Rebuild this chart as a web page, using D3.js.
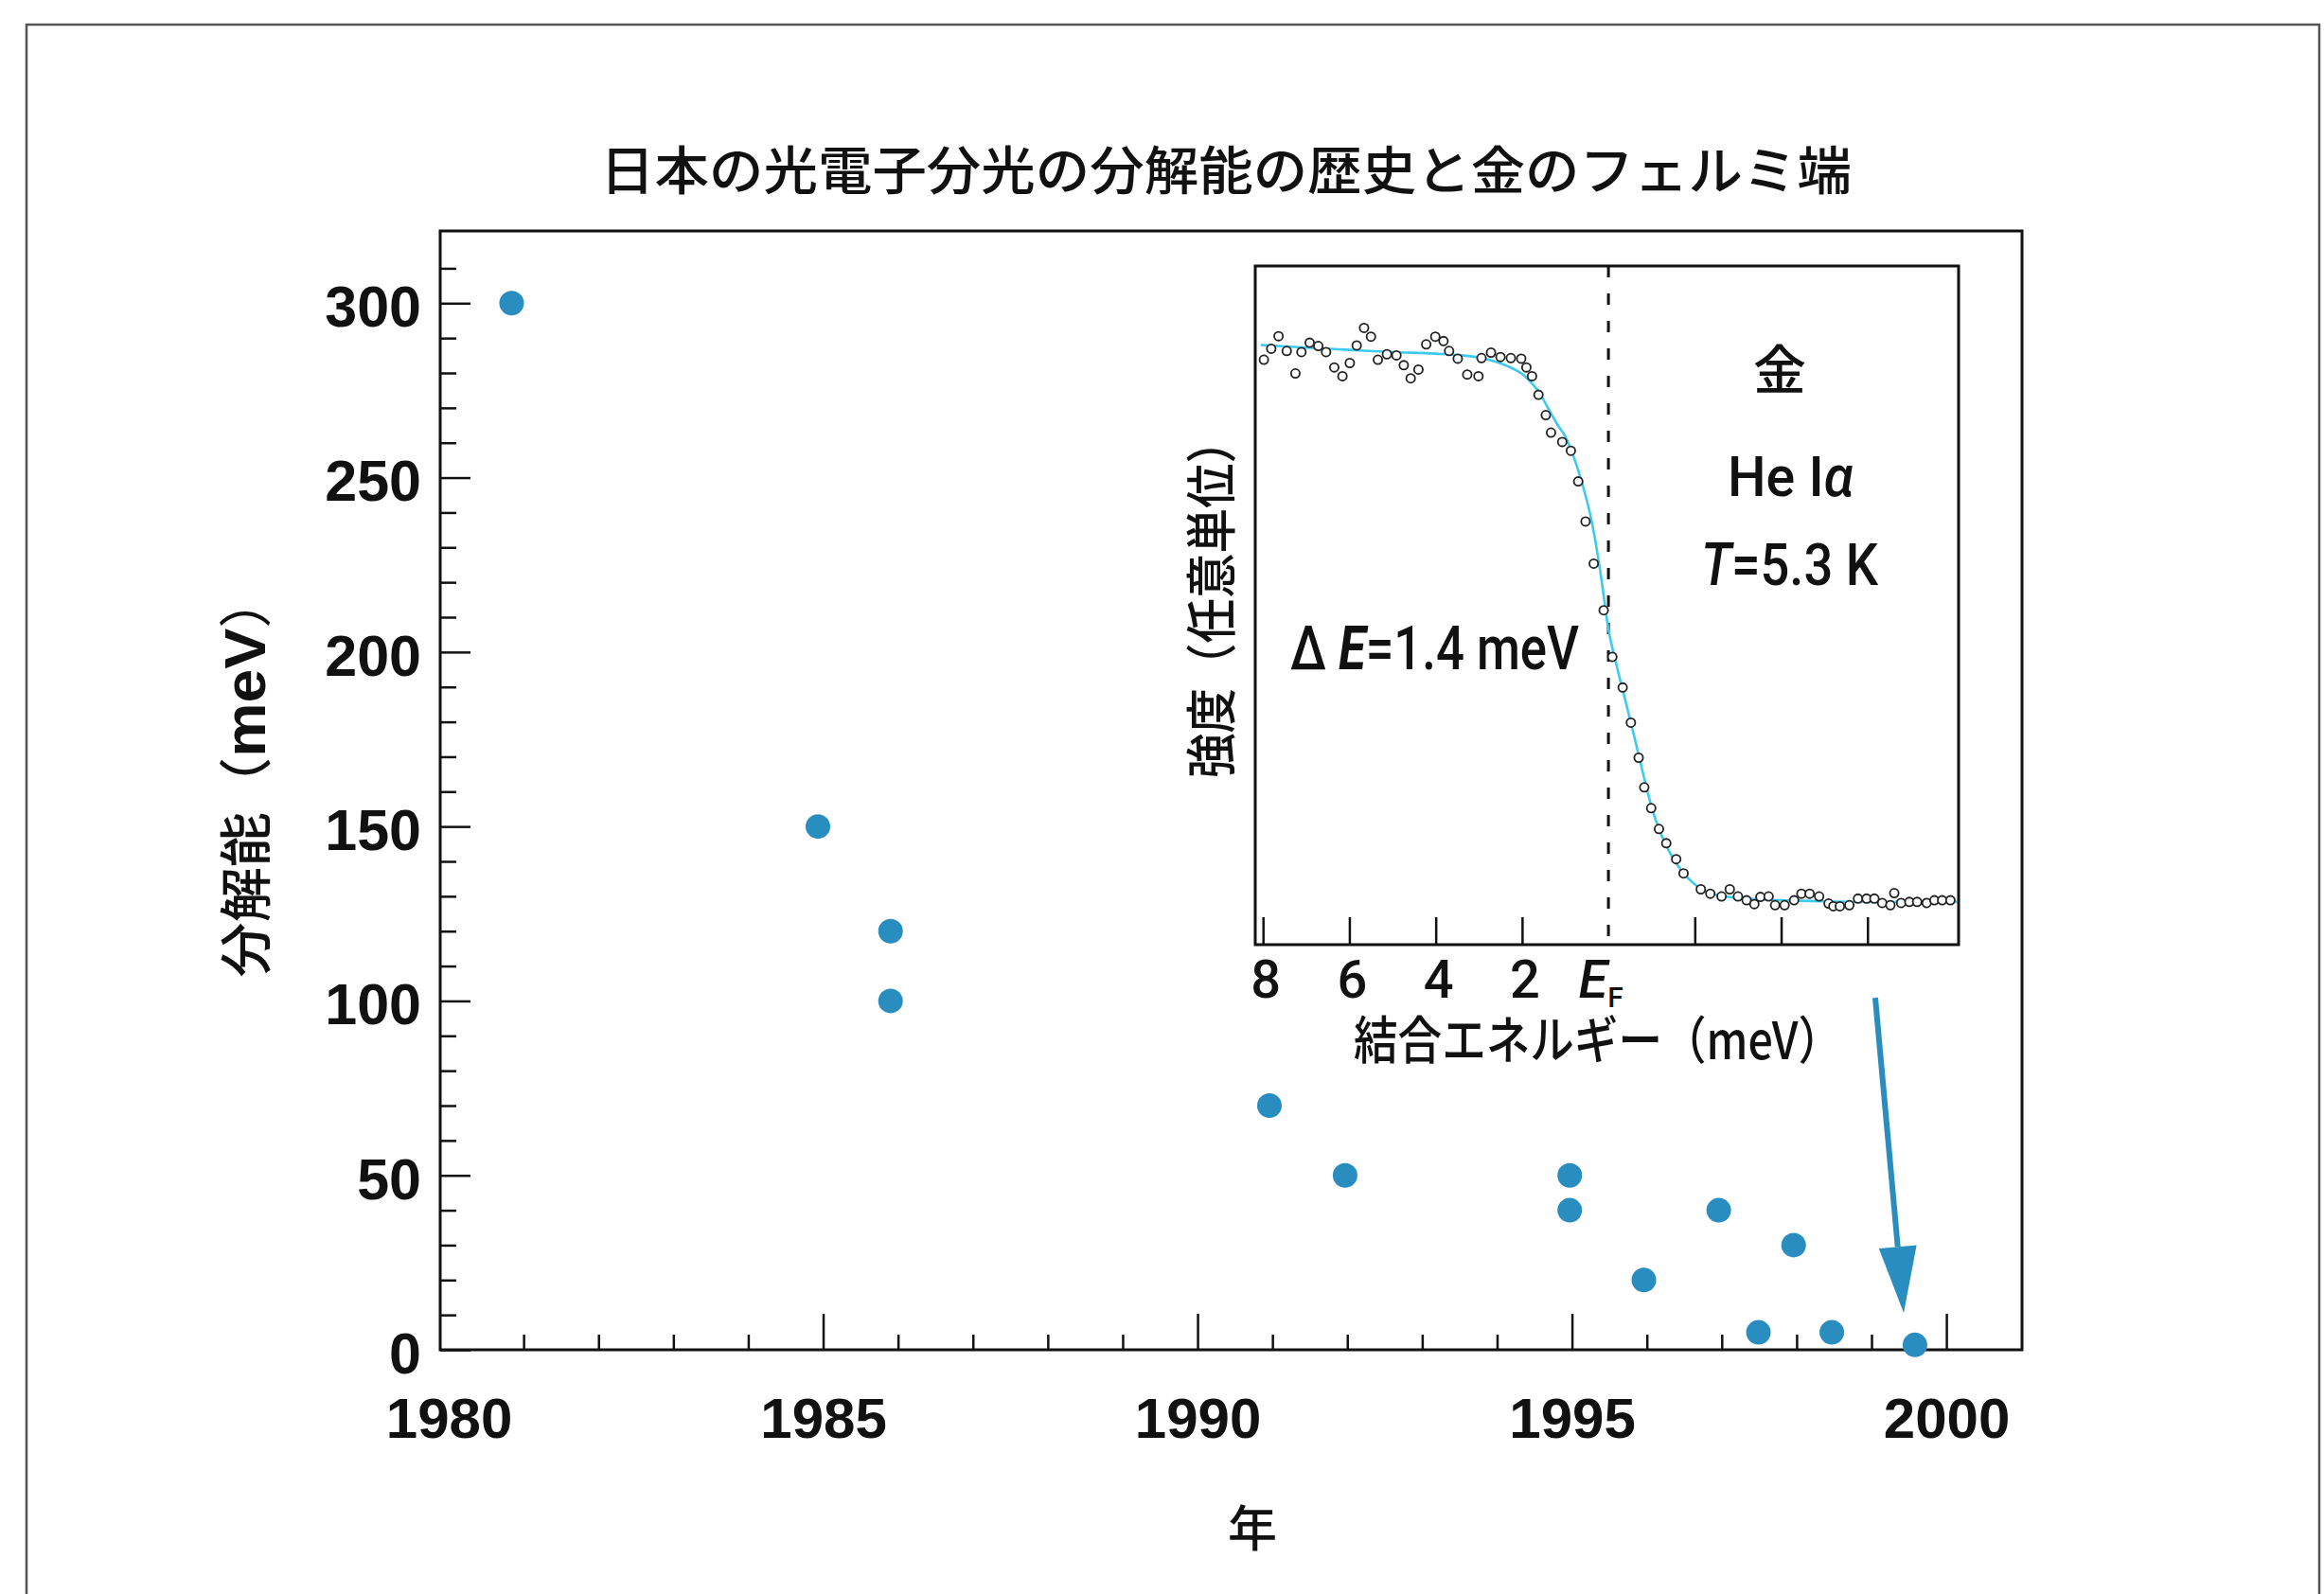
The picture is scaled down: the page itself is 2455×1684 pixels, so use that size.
<!DOCTYPE html>
<html><head><meta charset="utf-8">
<script src="https://cdn.jsdelivr.net/npm/d3@7"></script>
<style>html,body{margin:0;padding:0;background:#fff;}svg{display:block;}</style>
</head><body>
<script>
// ---------------- data ----------------
const chartTitle = "日本の光電子分光の分解能の歴史と金のフェルミ端";
const years = [1980.84, 1984.93, 1985.9, 1985.9, 1990.96, 1991.97, 1994.97, 1994.97, 1995.96, 1996.96, 1997.49, 1997.96, 1998.47, 1999.58];
const resolution = [300, 150, 120, 100, 70, 50, 50, 40, 20, 40, 5, 30, 5, 1.4];
const xMajorTicks = [1980, 1985, 1990, 1995, 2000];
const yMajorTicks = [0, 50, 100, 150, 200, 250, 300];
const arrowFrom = {year: 1999.05, res: 100.9};
const arrowTo = {year: 1999.43, res: 10.6};

const insetEnergy = [7.98,7.81,7.64,7.45,7.25,7.11,6.92,6.72,6.54,6.35,6.16,5.99,5.83,5.66,5.50,5.34,5.13,4.91,4.74,4.58,4.40,4.22,4.01,3.82,3.69,3.49,3.27,3.01,2.94,2.72,2.50,2.26,2.02,1.90,1.77,1.62,1.45,1.33,1.07,0.87,0.70,0.53,0.34,0.11,-0.09,-0.33,-0.52,-0.70,-0.83,-0.99,-1.17,-1.34,-1.57,-1.74,-2.14,-2.36,-2.62,-2.81,-3.00,-3.20,-3.38,-3.52,-3.71,-3.86,-4.08,-4.30,-4.47,-4.66,-4.88,-5.10,-5.21,-5.36,-5.58,-5.78,-5.98,-6.16,-6.34,-6.53,-6.62,-6.78,-6.97,-7.15,-7.37,-7.55,-7.73,-7.92];
const insetIntensity = [0.986,1.006,1.029,1.002,0.961,1.000,1.017,1.011,1.000,0.972,0.956,0.980,1.012,1.044,1.028,0.986,0.996,0.994,0.976,0.952,0.968,1.014,1.028,1.020,1.002,0.988,0.959,0.956,0.989,0.999,0.991,0.989,0.988,0.972,0.956,0.922,0.885,0.853,0.836,0.820,0.764,0.691,0.614,0.529,0.444,0.388,0.324,0.260,0.206,0.168,0.130,0.104,0.075,0.049,0.020,0.012,0.007,0.020,0.007,0.000,-0.007,0.006,0.007,-0.009,-0.009,0.000,0.012,0.012,0.007,-0.006,-0.011,-0.011,-0.009,0.003,0.003,0.003,-0.005,-0.009,0.013,-0.005,-0.003,-0.003,-0.005,0.000,0.000,0.000];
const fitEnergy = [8.05,7.0,6.0,5.0,4.0,3.4,3.0,2.6,2.3,2.0,1.8,1.6,1.4,1.2,1.0,0.8,0.6,0.4,0.2,0.0,-0.2,-0.4,-0.6,-0.8,-1.0,-1.2,-1.4,-1.6,-1.8,-2.0,-2.2,-2.5,-3.0,-4.0,-5.0,-6.0,-7.0,-8.08];
const fitIntensity = [1.013,1.008,1.004,1.000,0.997,0.994,0.990,0.982,0.973,0.960,0.945,0.926,0.898,0.870,0.846,0.808,0.758,0.696,0.606,0.495,0.425,0.362,0.298,0.232,0.170,0.124,0.090,0.064,0.044,0.029,0.018,0.010,0.004,0.000,-0.002,-0.003,-0.003,-0.003];
const insetTicks = [8, 6, 4, 2, -2, -4, -6];
const insetTickLabels = [8, 6, 4, 2];

// ---------------- setup ----------------
const W = 2455, H = 1684;
const svg = d3.select("body").append("svg").attr("width", W).attr("height", H)
  .style("background", "#fff");
const dotColor = "#2a8dbf";
const numFont = "'Liberation Sans', Arial, sans-serif";
const condFont = "Roboto, 'Liberation Sans', sans-serif";
const jpFont = "'Noto Sans CJK JP', sans-serif";

// page frame
svg.append("path").attr("d", "M28,1684V26H2450V1684")
  .attr("fill", "none").attr("stroke", "#555").attr("stroke-width", 2.5);

// title
svg.append("text").attr("x", 1295).attr("y", 200).attr("text-anchor", "middle")
  .attr("font-family", jpFont).attr("font-weight", 500).attr("font-size", 55)
  .attr("textLength", 1322).attr("lengthAdjust", "spacingAndGlyphs")
  .attr("fill", "#111").text(chartTitle);

// main scales
const L = 465, R = 2136, T = 244, B = 1426;
const x = d3.scaleLinear().domain([1979.886, 2001.01]).range([L, R]);
const y = d3.scaleLinear().domain([0, 320.7]).range([B, T]);

// minor ticks
const xMinor = d3.range(1981, 2001).filter(v => v % 5 !== 0);
const yMinor = d3.range(10, 320, 10).filter(v => v % 50 !== 0);

const gx = svg.append("g").attr("transform", `translate(0,${B})`);
gx.call(d3.axisBottom(x).tickValues(xMinor).tickSizeInner(-16).tickSizeOuter(0).tickFormat(""));
gx.append("g").call(d3.axisBottom(x).tickValues(xMajorTicks.filter(v => v > 1980)).tickSizeInner(-38).tickSizeOuter(0).tickFormat(""));
const gxl = svg.append("g").attr("transform", `translate(0,${B})`)
  .call(d3.axisBottom(x).tickValues(xMajorTicks).tickSize(0).tickPadding(50).tickFormat(d3.format("d")));
gxl.selectAll("text").attr("font-family", numFont).attr("font-weight", "bold")
  .attr("font-size", 60).attr("fill", "#111");

const gy = svg.append("g").attr("transform", `translate(${L},0)`);
gy.call(d3.axisLeft(y).tickValues(yMinor).tickSizeInner(-17).tickSizeOuter(0).tickFormat(""));
gy.append("g").call(d3.axisLeft(y).tickValues(yMajorTicks).tickSizeInner(-32).tickSizeOuter(0).tickPadding(20).tickFormat(d3.format("d")));
gy.selectAll("text").attr("font-family", numFont).attr("font-weight", "bold")
  .attr("font-size", 61).attr("fill", "#111").attr("dy", "0.4em");

[gx, gxl, gy].forEach(g => {
  g.selectAll(".domain").remove();
  g.selectAll("line").attr("stroke", "#111").attr("stroke-width", 2.5);
});

// main frame
svg.append("rect").attr("x", L).attr("y", T).attr("width", R - L).attr("height", B - T)
  .attr("fill", "none").attr("stroke", "#111").attr("stroke-width", 3);

// axis titles
svg.append("text").attr("x", 1323).attr("y", 1634).attr("text-anchor", "middle")
  .attr("font-family", jpFont).attr("font-weight", 500).attr("font-size", 52)
  .attr("fill", "#111").text("年");

const yt = svg.append("text").attr("transform", "translate(280,819) rotate(-90)")
  .attr("text-anchor", "middle").attr("fill", "#111")
  .attr("textLength", 427).attr("lengthAdjust", "spacingAndGlyphs");
yt.append("tspan").attr("font-family", jpFont).attr("font-weight", 500).attr("font-size", 56).text("分解能（");
yt.append("tspan").attr("font-family", numFont).attr("font-weight", "bold").attr("font-size", 62).text("meV");
yt.append("tspan").attr("font-family", jpFont).attr("font-weight", 400).attr("font-size", 56).text("）");

// data points
const pts = years.map((yr, i) => ({yr, v: resolution[i]}));
svg.append("g").selectAll("circle").data(pts).join("circle")
  .attr("cx", d => x(d.yr)).attr("cy", d => y(d.v)).attr("r", 13)
  .attr("fill", dotColor);

// ---------------- inset ----------------
const IL = 1326, IR = 2069, IT = 281, IB = 998;
const ix = d3.scaleLinear().domain([8.18, -8.11]).range([IL, IR]);
const iy = d3.scaleLinear().domain([-0.081, 1.157]).range([IB, IT]);

svg.append("rect").attr("x", IL).attr("y", IT).attr("width", IR - IL).attr("height", IB - IT)
  .attr("fill", "#fff");

const gix = svg.append("g").attr("transform", `translate(0,${IB})`)
  .call(d3.axisBottom(ix).tickValues(insetTicks).tickSizeInner(-29).tickSizeOuter(0).tickFormat(""));
gix.select(".domain").remove();
gix.selectAll("line").attr("stroke", "#111").attr("stroke-width", 2.5);

// E_F dashed line
svg.append("line").attr("x1", ix(0)).attr("x2", ix(0)).attr("y1", IT).attr("y2", IB)
  .attr("stroke", "#111").attr("stroke-width", 3).attr("stroke-dasharray", "12,17");

// fit curve
const fit = fitEnergy.map((e, i) => [ix(e), iy(fitIntensity[i])]);
svg.append("path").attr("d", d3.line().curve(d3.curveMonotoneX)(fit))
  .attr("fill", "none").attr("stroke", "#3ccbef").attr("stroke-width", 2.6);

// data circles
const ipts = insetEnergy.map((e, i) => ({e, v: insetIntensity[i]}));
svg.append("g").selectAll("circle").data(ipts).join("circle")
  .attr("cx", d => ix(d.e)).attr("cy", d => iy(d.v)).attr("r", 4.6)
  .attr("fill", "#fff").attr("stroke", "#222").attr("stroke-width", 1.8);

svg.append("rect").attr("x", IL).attr("y", IT).attr("width", IR - IL).attr("height", IB - IT)
  .attr("fill", "none").attr("stroke", "#111").attr("stroke-width", 3);

// inset tick labels
svg.append("g").selectAll("text").data(insetTickLabels).join("text")
  .attr("x", d => ix(d) + 3).attr("y", 1054).attr("text-anchor", "middle")
  .attr("font-family", condFont).attr("font-weight", 500).attr("font-size", 56)
  .attr("fill", "#111").text(d => d);
const ef = svg.append("text").attr("x", ix(0) - 8).attr("y", 1054).attr("text-anchor", "middle")
  .attr("font-family", condFont).attr("font-weight", 500).attr("fill", "#111");
ef.append("tspan").attr("font-size", 56).attr("font-style", "italic").text("E");
ef.append("tspan").attr("font-size", 30).attr("dy", 10).text("F");

// inset axis titles
svg.append("text").attr("x", 1688).attr("y", 1119).attr("text-anchor", "middle")
  .attr("font-family", jpFont).attr("font-weight", 500).attr("font-size", 54).attr("fill", "#111")
  .attr("textLength", 516).attr("lengthAdjust", "spacingAndGlyphs")
  .text("結合エネルギー（meV）");
svg.append("text").attr("transform", "translate(1300,632) rotate(-90)").attr("text-anchor", "middle")
  .attr("font-family", jpFont).attr("font-weight", 500).attr("font-size", 54).attr("fill", "#111")
  .attr("textLength", 380).attr("lengthAdjust", "spacingAndGlyphs")
  .text("強度（任意単位）");

// inset annotations
svg.append("text").attr("x", 1880).attr("y", 411).attr("text-anchor", "middle")
  .attr("font-family", jpFont).attr("font-weight", 500).attr("font-size", 56).attr("fill", "#111").text("金");

const he = svg.append("text").attr("x", 1825).attr("y", 524)
  .attr("font-family", condFont).attr("font-weight", 500).attr("font-size", 60).attr("fill", "#111")
  .attr("textLength", 133).attr("lengthAdjust", "spacingAndGlyphs");
he.append("tspan").text("He I");
he.append("tspan").attr("font-style", "italic").text("α");

const tt = svg.append("text").attr("x", 1797).attr("y", 618)
  .attr("font-family", condFont).attr("font-weight", 500).attr("font-size", 62).attr("fill", "#111")
  .attr("textLength", 187).attr("lengthAdjust", "spacingAndGlyphs");
tt.append("tspan").attr("font-style", "italic").text("T");
tt.append("tspan").text("=5.3 K");

const de = svg.append("text").attr("x", 1363).attr("y", 707)
  .attr("font-family", condFont).attr("font-weight", 500).attr("font-size", 64).attr("fill", "#111")
  .attr("textLength", 305).attr("lengthAdjust", "spacingAndGlyphs");
de.append("tspan").text("Δ ");
de.append("tspan").attr("font-style", "italic").attr("font-weight", 700).text("E");
de.append("tspan").text("=1.4 meV");

// ---------------- arrow ----------------
const ax1 = x(arrowFrom.year), ay1 = y(arrowFrom.res);
const ax2 = x(arrowTo.year), ay2 = y(arrowTo.res);
const len = Math.hypot(ax2 - ax1, ay2 - ay1);
const ux = (ax2 - ax1) / len, uy = (ay2 - ay1) / len;
const headL = 70, headW = 20;
const bx = ax2 - ux * headL, by = ay2 - uy * headL;
svg.append("line").attr("x1", ax1).attr("y1", ay1).attr("x2", bx).attr("y2", by)
  .attr("stroke", dotColor).attr("stroke-width", 6);
svg.append("path").attr("d", `M${ax2},${ay2}L${bx - uy * headW},${by + ux * headW}L${bx + uy * headW},${by - ux * headW}Z`)
  .attr("fill", dotColor);
</script>
</body></html>
